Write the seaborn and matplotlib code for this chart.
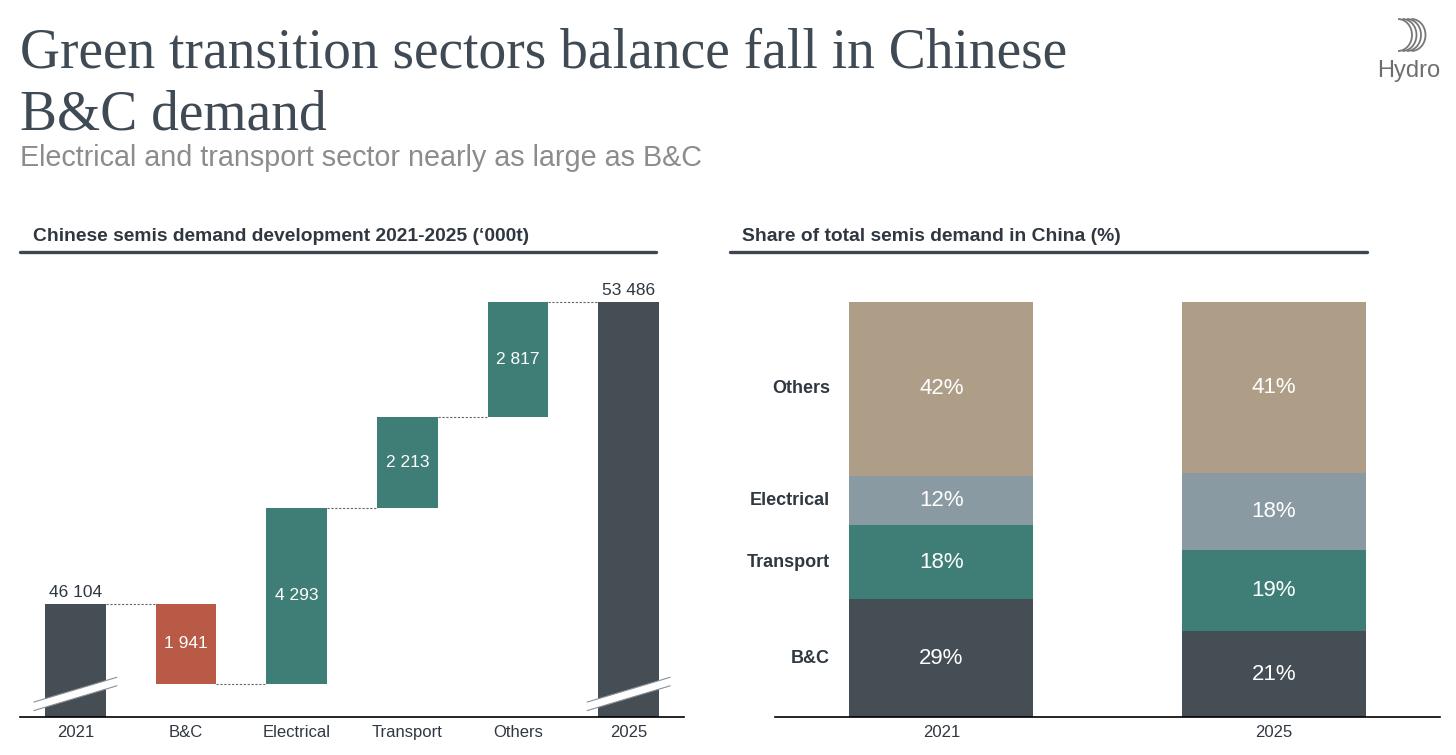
import numpy as np
import pandas as pd
import seaborn as sns
import matplotlib.pyplot as plt
from matplotlib.patches import Polygon, Arc

# Waterfall data ('000t)
wf_cats = ["2021", "B&C", "Electrical", "Transport", "Others", "2025"]
wf_start = 46104
wf_changes = [-1941, 4293, 2213, 2817]
wf_end = 53486
wf_labels = ["46 104", "1 941", "4 293", "2 213", "2 817", "53 486"]

# Share data (%)
share_years = ["2021", "2025"]
share_sectors = ["B&C", "Transport", "Electrical", "Others"]
share_2021 = [28.4, 17.9, 11.8, 41.9]
share_2025 = [20.7, 19.5, 18.6, 41.2]
share_labels_2021 = ["29%", "18%", "12%", "42%"]
share_labels_2025 = ["21%", "19%", "18%", "41%"]

DARK = "#454d55"
RED = "#b95a47"
TEAL = "#3e7e77"
GREYBLUE = "#8a9aa2"
TAN = "#ae9e88"
TXT = "#2f3740"
sector_colors = [DARK, TEAL, GREYBLUE, TAN]

sns.set_theme(style="white")
plt.rcParams["font.family"] = ["Liberation Sans", "DejaVu Sans"]

fig = plt.figure(figsize=(14.56, 7.55), dpi=100)
W, H = 1456, 755


def fx(px):
    return px / W


def fy(py):
    return 1 - py / H


# Titles
for txt, base in (("Green transition sectors balance fall in Chinese", 68), ("B&C demand", 129)):
    fig.text(fx(20), fy(base), txt, family="Liberation Serif", fontsize=40,
             color="#3f4a54", va="baseline")
fig.text(fx(20), fy(166), "Electrical and transport sector nearly as large as B&C",
         fontsize=20.7, color="#8c8c8c", va="baseline")

# Hydro logo
fig.text(fx(1440), fy(77), "Hydro", fontsize=17, color="#6e6e6e", ha="right", va="baseline")
lax = fig.add_axes([fx(1390), fy(52), fx(44), 34 / H])
lax.set_xlim(0, 44)
lax.set_ylim(0, 34)
lax.axis("off")
for i in range(4):
    lax.add_patch(Arc((8 + i * 4.5, 17), 28, 32, theta1=-90, theta2=90, color="#777777", lw=1.3))

# Panel headers
fig.text(fx(33), fy(241), "Chinese semis demand development 2021-2025 (\u2018000t)",
         fontsize=13.9, fontweight="bold", color=TXT, va="baseline")
fig.text(fx(742), fy(241), "Share of total semis demand in China (%)",
         fontsize=13.9, fontweight="bold", color=TXT, va="baseline")
fig.add_artist(plt.Line2D([fx(20), fx(656)], [fy(252), fy(252)], color="#3d4650", lw=2.4))
fig.add_artist(plt.Line2D([fx(730), fx(1367)], [fy(252), fy(252)], color="#3d4650", lw=2.4))

# ---------------- Waterfall ----------------
ax1 = fig.add_axes([fx(20), fy(717), fx(664), (717 - 290) / H])
levels = np.cumsum([wf_start] + wf_changes)
bottoms = [0]
heights = [wf_start]
for i, c in enumerate(wf_changes):
    bottoms.append(min(levels[i], levels[i + 1]))
    heights.append(abs(c))
bottoms.append(0)
heights.append(wf_end)
colors = [DARK] + [RED if c < 0 else TEAL for c in wf_changes] + [DARK]

df_wf = pd.DataFrame({"cat": wf_cats, "h": heights})
sns.barplot(data=df_wf, x="cat", y="h", hue="cat", palette=colors, legend=False,
            width=0.55, ax=ax1, saturation=1, linewidth=0)
for p, b in zip(ax1.patches, bottoms):
    p.set_y(b)

ylo, yhi = 43350, 53780
ax1.set_ylim(ylo, yhi)
ax1.set_xlim(-0.5, 5.5)

# value labels
for i, p in enumerate(ax1.patches):
    xc = p.get_x() + p.get_width() / 2
    if i in (0, len(wf_cats) - 1):
        ax1.text(xc, p.get_y() + p.get_height() + 110, wf_labels[i], ha="center", va="bottom",
                 fontsize=12.5, color=TXT)
    else:
        ax1.text(xc, p.get_y() + p.get_height() / 2, wf_labels[i], ha="center", va="center",
                 fontsize=12.5, color="white")

# connectors
for i in range(len(wf_cats) - 1):
    p0, p1 = ax1.patches[i], ax1.patches[i + 1]
    lvl = levels[i] if i < len(levels) else wf_end
    ax1.plot([p0.get_x() + p0.get_width(), p1.get_x()], [lvl, lvl],
             ls=(0, (2, 1.5)), color="#666666", lw=0.8)

# axis break marks on the total bars
yr = yhi - ylo
for i in (0, len(wf_cats) - 1):
    p = ax1.patches[i]
    x0 = p.get_x() - 0.1
    x1 = p.get_x() + p.get_width() + 0.1
    yb = ylo + 0.015 * yr
    dy = 0.058 * yr
    gap = 0.02 * yr
    band = Polygon([[x0, yb], [x1, yb + dy], [x1, yb + dy + gap], [x0, yb + gap]],
                   closed=True, facecolor="white", edgecolor="none", zorder=5)
    ax1.add_patch(band)
    for off in (0, gap):
        ax1.plot([x0, x1], [yb + off, yb + dy + off], color="#8a8f94", lw=0.8, zorder=6)

sns.despine(ax=ax1, left=True)
ax1.spines["bottom"].set_color("black")
ax1.spines["bottom"].set_linewidth(1.2)
ax1.set_yticks([])
ax1.set_xlabel("")
ax1.set_ylabel("")
ax1.tick_params(axis="x", length=0, labelsize=12, labelcolor=TXT, pad=6)

# ---------------- Stacked shares ----------------
ax2 = fig.add_axes([fx(775), fy(717), fx(665), (717 - 290) / H])
shares = pd.DataFrame({"2021": share_2021, "2025": share_2025}, index=share_sectors)
cum = shares.cumsum()
for k in range(len(share_sectors) - 1, -1, -1):
    sec = share_sectors[k]
    d = pd.DataFrame({"year": share_years, "v": cum.loc[sec].values})
    sns.barplot(data=d, x="year", y="v", color=sector_colors[k], saturation=1,
                width=0.553, ax=ax2, linewidth=0)

for j, yr_name in enumerate(share_years):
    labs = share_labels_2021 if j == 0 else share_labels_2025
    vals = shares[yr_name].values
    cvals = cum[yr_name].values
    for k in range(len(share_sectors)):
        mid = cvals[k] - vals[k] / 2
        ax2.text(j, mid, labs[k], ha="center", va="center", fontsize=16, color="white")

for k, sec in enumerate(share_sectors):
    mid = cum["2021"].values[k] - shares["2021"].values[k] / 2
    ax2.text(-0.335, mid, sec, ha="right", va="center", fontsize=13, fontweight="bold", color=TXT)

ax2.set_xlim(-0.5, 1.5)
ax2.set_ylim(0, 102.9)
sns.despine(ax=ax2, left=True)
ax2.spines["bottom"].set_color("black")
ax2.spines["bottom"].set_linewidth(1.2)
ax2.set_yticks([])
ax2.set_xlabel("")
ax2.set_ylabel("")
ax2.tick_params(axis="x", length=0, labelsize=12, labelcolor=TXT, pad=6)

fig.savefig("out.png", dpi=100)
